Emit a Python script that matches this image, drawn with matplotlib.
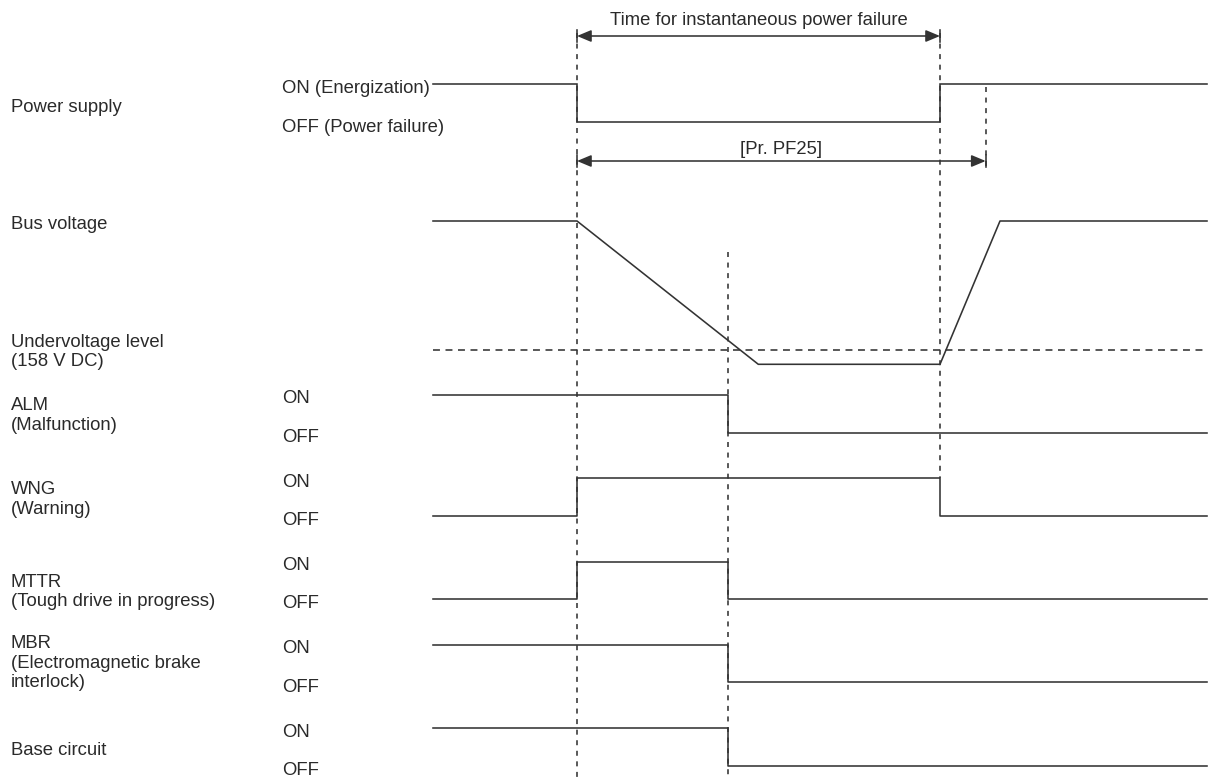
import matplotlib
matplotlib.use("Agg")
import matplotlib.pyplot as plt

plt.rcParams['font.family'] = ['Liberation Sans', 'DejaVu Sans']
plt.rcParams['lines.scale_dashes'] = False

# ---------------- data (time axis in drawing units) ----------------
t_start = 433.0      # left edge of waveforms
t_fail = 577.0       # instantaneous power failure begins
t_alarm = 728.3      # undervoltage detected -> ALM/MTTR/MBR/base off
t_restore = 940.0    # power restored
t_pf25 = 985.7       # end of [Pr. PF25]
t_bus_low = 758.3    # bus voltage reaches bottom
t_bus_high = 1000.0  # bus voltage back to nominal
t_end = 1207.0

power_times = [t_start, t_fail, t_fail, t_restore, t_restore, t_end]
power_levels = [1, 1, 0, 0, 1, 1]

bus_times = [t_start, t_fail, t_bus_low, t_restore, t_bus_high, t_end]
bus_levels = [1.0, 1.0, 0.0, 0.0, 1.0, 1.0]
undervoltage_level = 0.1      # relative position of 158 V DC between low and high

signal_names = ["ALM", "WNG", "MTTR", "MBR", "Base circuit"]
signal_labels = [["ALM", "(Malfunction)"],
                 ["WNG", "(Warning)"],
                 ["MTTR", "(Tough drive in progress)"],
                 ["MBR", "(Electromagnetic brake", "interlock)"],
                 ["Base circuit"]]
signal_times = [[t_start, t_alarm, t_alarm, t_end],
                [t_start, t_fail, t_fail, t_restore, t_restore, t_end],
                [t_start, t_fail, t_fail, t_alarm, t_alarm, t_end],
                [t_start, t_alarm, t_alarm, t_end],
                [t_start, t_alarm, t_alarm, t_end]]
signal_levels = [[1, 1, 0, 0],
                 [0, 0, 1, 1, 0, 0],
                 [0, 0, 1, 1, 0, 0],
                 [1, 1, 0, 0],
                 [1, 1, 0, 0]]

# ---------------- layout ----------------
LC = '#333333'
TC = '#2a2a2a'
FS = 13.3
LW = 1.15
DASH = (0, (3.6, 4.0))

fig = plt.figure(figsize=(12.08, 7.78), dpi=100)
ax = fig.add_axes([0, 0, 1, 1])
ax.set_xlim(0, 1208)
ax.set_ylim(778, 0)
ax.axis('off')

x_left = 11
x_mid = 282

# Power supply
ps_on, ps_off = 84.3, 122.0
ax.plot(power_times, [ps_off + (ps_on - ps_off) * v for v in power_levels],
        color=LC, lw=LW, solid_joinstyle='miter')
ax.text(x_left, 112, "Power supply", fontsize=FS, color=TC, va='baseline')
ax.text(x_mid, 93, "ON (Energization)", fontsize=FS, color=TC, va='baseline')
ax.text(x_mid, 131.5, "OFF (Power failure)", fontsize=FS, color=TC, va='baseline')

# Bus voltage
bus_hi, bus_lo = 221.0, 364.3
uv_y = 350.0
ax.plot(bus_times, [bus_lo + (bus_hi - bus_lo) * v for v in bus_levels],
        color=LC, lw=LW)
ax.plot([t_start, t_end], [uv_y, uv_y], color=LC, lw=LW, linestyle=(0, (5, 4)))
ax.text(x_left, 228.5, "Bus voltage", fontsize=FS, color=TC, va='baseline')
ax.text(x_left, 346.5, "Undervoltage level", fontsize=FS, color=TC, va='baseline')
ax.text(x_left, 365.5, "(158 V DC)", fontsize=FS, color=TC, va='baseline')

# Digital signals
row0_on = 395.0
row_step = 83.33
on_off_gap = 37.5
label_first_base = [410, 494, 587, 648, 755]
for i, name in enumerate(signal_names):
    y_on = row0_on + i * row_step
    y_off = y_on + on_off_gap
    ys = [y_off + (y_on - y_off) * v for v in signal_levels[i]]
    ax.plot(signal_times[i], ys, color=LC, lw=LW)
    ax.text(x_mid, y_on + 8.3, "ON", fontsize=FS, color=TC, va='baseline')
    ax.text(x_mid, y_off + 9.3, "OFF", fontsize=FS, color=TC, va='baseline')
    for j, line in enumerate(signal_labels[i]):
        ax.text(x_left, label_first_base[i] + j * 19.5, line, fontsize=FS,
                color=TC, va='baseline')

# Dashed guide lines
ax.plot([t_fail, t_fail], [33, 778], color=LC, lw=LW, linestyle=DASH)
ax.plot([t_restore, t_restore], [33, row0_on + row_step], color=LC, lw=LW, linestyle=DASH)
ax.plot([t_alarm, t_alarm], [252, 778], color=LC, lw=LW, linestyle=DASH)
ax.plot([t_pf25, t_pf25], [87, 168], color=LC, lw=LW, linestyle=DASH)

# Dimension arrows
def dim_arrow(x1, x2, y):
    ax.annotate('', xy=(x2, y), xytext=(x1, y),
                arrowprops=dict(arrowstyle='<|-|>,head_length=0.86,head_width=0.36',
                                mutation_scale=10, shrinkA=0, shrinkB=0,
                                color=LC, lw=LW))
    for x in (x1, x2):
        ax.plot([x, x], [y - 6, y + 6], color=LC, lw=LW)

arr1_y = 36.0
arr2_y = 161.0
dim_arrow(t_fail, t_restore, arr1_y)
dim_arrow(t_fail, t_pf25, arr2_y)
ax.text((t_fail + t_restore) / 2, 25, "Time for instantaneous power failure",
        fontsize=FS, color=TC, ha='center', va='baseline')
ax.text(781, 154, "[Pr. PF25]", fontsize=FS, color=TC, ha='center', va='baseline')

fig.savefig("out.png", dpi=100)
